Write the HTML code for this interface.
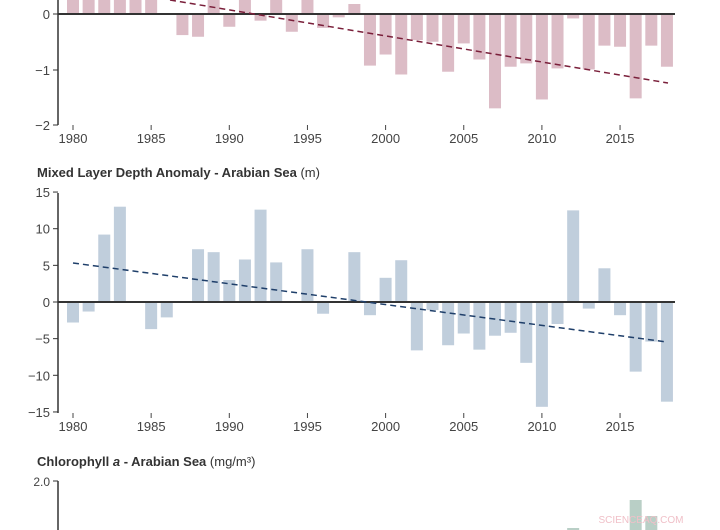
<!DOCTYPE html>
<html><head><meta charset="utf-8"><style>
html,body{margin:0;padding:0;background:#fff;}
svg{display:block;font-family:"Liberation Sans",sans-serif;}
</style></head><body>
<svg id="s" width="720" height="530" viewBox="0 0 720 530" xmlns="http://www.w3.org/2000/svg"></svg>
<script>
(function(){
var s=document.getElementById('s'),h='';
function X(y){return 73+(y-1980)*15.63;}
var tv=[0.4,0.4,0.4,0.4,0.4,0.4,0,-0.38,-0.41,0.3,-0.23,0.3,-0.12,0.3,-0.32,0.3,-0.25,-0.06,0.18,-0.93,-0.73,-1.09,-0.47,-0.5,-1.04,-0.53,-0.82,-1.7,-0.95,-0.89,-1.54,-0.98,-0.08,-1.0,-0.57,-0.59,-1.52,-0.57,-0.95];
var z1=14,k1=55.5;
tv.forEach(function(v,i){if(!v)return;var x=X(1980+i)-6;var y=v>0?z1-v*k1:z1;h+='<rect x="'+x+'" y="'+y+'" width="12" height="'+Math.abs(v*k1)+'" fill="#dcbcc6"/>';});
h+='<line x1="58" y1="14" x2="675" y2="14" stroke="#333" stroke-width="2"/>';
h+='<line x1="58" y1="0" x2="58" y2="125" stroke="#333" stroke-width="1.5"/>';
[[0,14],[-1,70],[-2,125]].forEach(function(t){h+='<line x1="53" y1="'+t[1]+'" x2="58" y2="'+t[1]+'" stroke="#333"/><text x="50" y="'+(t[1]+5)+'" font-size="13" fill="#444" text-anchor="end">'+(t[0]<0?'\u2212'+(-t[0]):t[0])+'</text>';});
h+='<line x1="170" y1="0" x2="668" y2="83" stroke="#7a1f3a" stroke-width="1.5" stroke-dasharray="6,4"/>';
function xt(yb){for(var y=1980;y<=2015;y+=5){var x=X(y);h+='<line x1="'+x+'" y1="'+(yb-5)+'" x2="'+x+'" y2="'+yb+'" stroke="#444"/><text x="'+x+'" y="'+(yb+13)+'" font-size="13" fill="#444" text-anchor="middle">'+y+'</text>';}}
xt(130);
h+='<text x="37" y="177" font-size="13" fill="#333"><tspan font-weight="bold">Mixed Layer Depth Anomaly - Arabian Sea</tspan> (m)</text>';
var mid=[-2.8,-1.3,9.2,13,0,-3.7,-2.1,0,7.2,6.8,3.0,5.8,12.6,5.4,0,7.2,-1.6,0,6.8,-1.8,3.3,5.7,-6.6,-1.1,-5.9,-4.3,-6.5,-4.6,-4.2,-8.3,-14.3,-3.0,12.5,-0.9,4.6,-1.8,-9.5,-5.4,-13.6];
var z2=302,k2=7.33;
mid.forEach(function(v,i){if(!v)return;var x=X(1980+i)-6;var y=v>0?z2-v*k2:z2;h+='<rect x="'+x+'" y="'+y+'" width="12" height="'+Math.abs(v*k2)+'" fill="#c0cedc"/>';});
h+='<line x1="58" y1="302" x2="675" y2="302" stroke="#333" stroke-width="2"/>';
h+='<line x1="58" y1="193" x2="58" y2="413" stroke="#333" stroke-width="1.5"/>';
[15,10,5,0,-5,-10,-15].forEach(function(v){var y=z2-v*k2;h+='<line x1="53" y1="'+y+'" x2="58" y2="'+y+'" stroke="#333"/><text x="50" y="'+(y+5)+'" font-size="13" fill="#444" text-anchor="end">'+(v<0?'\u2212'+(-v):v)+'</text>';});
h+='<line x1="73" y1="263" x2="667" y2="342" stroke="#1f3f6a" stroke-width="1.5" stroke-dasharray="6,4"/>';
xt(418);
h+='<text x="37" y="466" font-size="13" fill="#333"><tspan font-weight="bold">Chlorophyll <tspan font-style="italic">a</tspan> - Arabian Sea</tspan> (mg/m\u00b3)</text>';
h+='<line x1="53" y1="481" x2="58" y2="481" stroke="#333"/><line x1="58" y1="481" x2="58" y2="530" stroke="#333" stroke-width="1.5"/><text x="50" y="486" font-size="12" fill="#444" text-anchor="end">2.0</text>';
h+='<rect x="'+(X(2012)-6)+'" y="528" width="12" height="2" fill="#b9cfc6"/>';
h+='<rect x="'+(X(2016)-6)+'" y="500" width="12" height="30" fill="#b9cfc6"/>';
h+='<rect x="'+(X(2017)-6)+'" y="516" width="12" height="14" fill="#b9cfc6"/>';
h+='<text x="641" y="523" font-size="10" fill="#f0c0c8" text-anchor="middle">SCIENCEAQ.COM</text>';
s.innerHTML=h;
})();
</script>
</body></html>
